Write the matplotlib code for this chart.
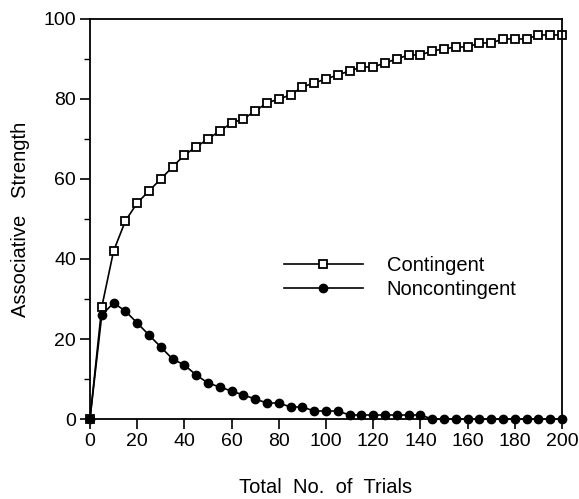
import matplotlib
matplotlib.use("Agg")
import matplotlib.pyplot as plt
from matplotlib.ticker import MultipleLocator

plt.rcParams['font.family'] = ['Liberation Sans', 'DejaVu Sans']

# Trials sampled every 5 trials
trials = list(range(0, 201, 5))

contingent = [0, 28, 42, 49.5, 54, 57, 60, 63, 66, 68, 70,
              72, 74, 75, 77, 79, 80, 81, 83, 84, 85,
              86, 87, 88, 88, 89, 90, 91, 91, 92, 92.5,
              93, 93, 94, 94, 95, 95, 95, 96, 96, 96]

noncontingent = [0, 26, 29, 27, 24, 21, 18, 15, 13.5, 11, 9,
                 8, 7, 6, 5, 4, 4, 3, 3, 2, 2,
                 2, 1, 1, 1, 1, 1, 1, 1, 0, 0,
                 0, 0, 0, 0, 0, 0, 0, 0, 0, 0]

series_labels = ["Contingent", "Noncontingent"]

fig = plt.figure(figsize=(5.79, 4.99), dpi=100)
ax = fig.add_axes([0.1554, 0.1603, 0.8152, 0.8017])

ax.plot(trials, contingent, color='black', lw=1.2, marker='s', ms=5.5,
        mfc='white', mec='black', mew=1.3, label=series_labels[0], clip_on=False)
ax.plot(trials, noncontingent, color='black', lw=1.2, marker='o', ms=6,
        mfc='black', mec='black', label=series_labels[1], clip_on=False, zorder=3)

ax.set_xlim(0, 200)
ax.set_ylim(0, 100)
ax.xaxis.set_major_locator(MultipleLocator(20))
ax.yaxis.set_major_locator(MultipleLocator(20))
ax.yaxis.set_minor_locator(MultipleLocator(10))
ax.tick_params(axis='both', which='major', direction='out', length=7, width=1.2,
               labelsize=14, pad=3)
ax.tick_params(axis='y', which='minor', direction='out', length=4, width=1)
ax.tick_params(top=False, right=False)
for s in ax.spines.values():
    s.set_linewidth(1.3)

ax.set_xlabel("Total  No.  of  Trials", fontsize=14.5, labelpad=20)
ax.set_ylabel("Associative   Strength", fontsize=14.5, labelpad=10)

leg = ax.legend(loc='upper left', bbox_to_anchor=(0.4905, 0.487),
                bbox_transform=fig.transFigure, frameon=False,
                fontsize=14.5, handlelength=3.9, handletextpad=1.2,
                labelspacing=0.25, borderpad=0, borderaxespad=0, numpoints=1)

fig.savefig("out.png", dpi=100)
